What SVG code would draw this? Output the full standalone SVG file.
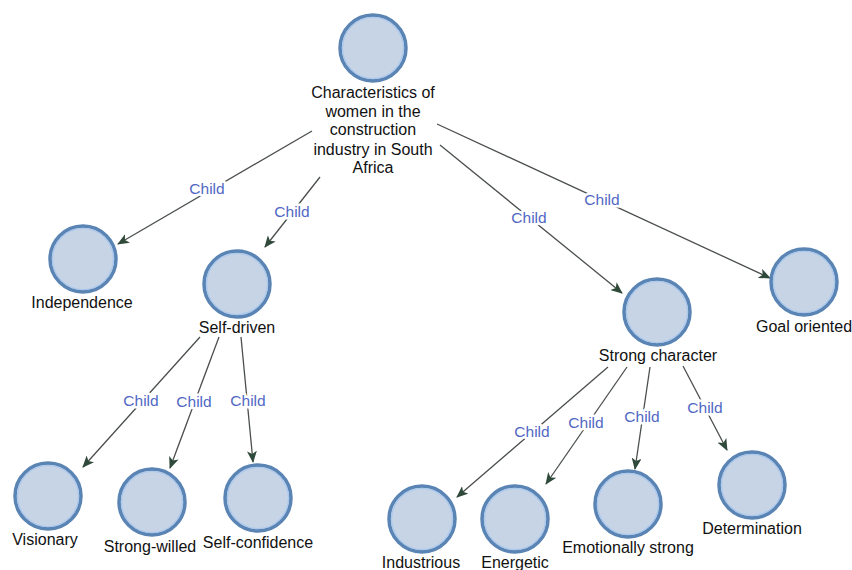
<svg xmlns="http://www.w3.org/2000/svg" width="852" height="570" viewBox="0 0 852 570">
<style>
.bg{fill:#ffffff}
.node circle.o{fill:#c6d4e6;stroke:#5a84b4;stroke-width:3.5}
.node circle.i{fill:none;stroke:#a9c8ee;stroke-width:1.2}
.node text{font-family:"Liberation Sans",Arial,sans-serif;font-size:16px;fill:#111;text-anchor:middle}
.edges line{stroke:#4a4f4c;stroke-width:1.3}
.edges text{font-family:"Liberation Sans",Arial,sans-serif;font-size:15.5px;fill:#5068c4;text-anchor:middle;stroke:#fff;stroke-width:5;paint-order:stroke;stroke-linejoin:round}
</style>
<defs>
<marker id="arr" viewBox="0 0 12 10" refX="11" refY="5" markerWidth="12" markerHeight="10" markerUnits="userSpaceOnUse" orient="auto">
<path d="M0,0 L12,5 L0,10 L3,5 z" fill="#2f4a3a"/>
</marker>
</defs>
<rect class="bg" x="0" y="0" width="852" height="570"/>
<g class="edges">
<line x1="312" y1="131" x2="118" y2="244" marker-end="url(#arr)"/>
<line x1="320" y1="177" x2="265" y2="247" marker-end="url(#arr)"/>
<line x1="440" y1="145" x2="622" y2="293" marker-end="url(#arr)"/>
<line x1="437" y1="124" x2="770" y2="278" marker-end="url(#arr)"/>
<line x1="200" y1="337" x2="83" y2="467" marker-end="url(#arr)"/>
<line x1="219" y1="337" x2="170" y2="468" marker-end="url(#arr)"/>
<line x1="241" y1="337" x2="253" y2="462" marker-end="url(#arr)"/>
<line x1="608" y1="367" x2="457" y2="497" marker-end="url(#arr)"/>
<line x1="627" y1="367" x2="546" y2="484" marker-end="url(#arr)"/>
<line x1="650" y1="367" x2="635" y2="469" marker-end="url(#arr)"/>
<line x1="683" y1="366" x2="727" y2="450" marker-end="url(#arr)"/>
<text x="207" y="194">Child</text>
<text x="292" y="217">Child</text>
<text x="529" y="223">Child</text>
<text x="602" y="205">Child</text>
<text x="141" y="406">Child</text>
<text x="194" y="407">Child</text>
<text x="248" y="406">Child</text>
<text x="532" y="437">Child</text>
<text x="586" y="428">Child</text>
<text x="642" y="422">Child</text>
<text x="705" y="413">Child</text>
</g>
<g id="root" class="node">
<circle class="o" cx="373" cy="48" r="33"/><circle class="i" cx="373" cy="48" r="30.5"/>
<text x="373" y="98">Characteristics of</text>
<text x="373" y="117">women in the</text>
<text x="373" y="135">construction</text>
<text x="373" y="155">industry in South</text>
<text x="373" y="173">Africa</text>
</g>
<g id="independence" class="node">
<circle class="o" cx="83" cy="259" r="33"/><circle class="i" cx="83" cy="259" r="30.5"/>
<text x="82" y="308">Independence</text>
</g>
<g id="self-driven" class="node">
<circle class="o" cx="237" cy="284" r="33"/><circle class="i" cx="237" cy="284" r="30.5"/>
<text x="237" y="333">Self-driven</text>
</g>
<g id="visionary" class="node">
<circle class="o" cx="48" cy="496" r="33"/><circle class="i" cx="48" cy="496" r="30.5"/>
<text x="45" y="545">Visionary</text>
</g>
<g id="strong-willed" class="node">
<circle class="o" cx="152" cy="502" r="33"/><circle class="i" cx="152" cy="502" r="30.5"/>
<text x="150" y="552">Strong-willed</text>
</g>
<g id="self-confidence" class="node">
<circle class="o" cx="258" cy="498" r="33"/><circle class="i" cx="258" cy="498" r="30.5"/>
<text x="258" y="548">Self-confidence</text>
</g>
<g id="strong-character" class="node">
<circle class="o" cx="657" cy="312" r="33"/><circle class="i" cx="657" cy="312" r="30.5"/>
<text x="658" y="361">Strong character</text>
</g>
<g id="goal-oriented" class="node">
<circle class="o" cx="804" cy="282" r="33"/><circle class="i" cx="804" cy="282" r="30.5"/>
<text x="804" y="332">Goal oriented</text>
</g>
<g id="industrious" class="node">
<circle class="o" cx="422" cy="519" r="33"/><circle class="i" cx="422" cy="519" r="30.5"/>
<text x="421" y="568">Industrious</text>
</g>
<g id="energetic" class="node">
<circle class="o" cx="515" cy="519" r="33"/><circle class="i" cx="515" cy="519" r="30.5"/>
<text x="515" y="568">Energetic</text>
</g>
<g id="emotionally-strong" class="node">
<circle class="o" cx="628" cy="504" r="33"/><circle class="i" cx="628" cy="504" r="30.5"/>
<text x="628" y="553">Emotionally strong</text>
</g>
<g id="determination" class="node">
<circle class="o" cx="752" cy="485" r="33"/><circle class="i" cx="752" cy="485" r="30.5"/>
<text x="752" y="534">Determination</text>
</g>
</svg>
